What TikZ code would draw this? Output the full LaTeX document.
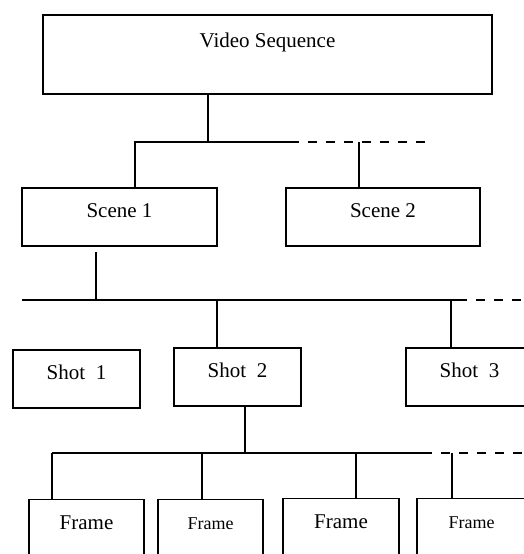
\documentclass[tikz,border=0pt]{standalone}
\usepackage{fontspec}
\setmainfont{Liberation Serif}
\usetikzlibrary{positioning}

\begin{document}
\begin{tikzpicture}[x=1pt,y=-1pt,
box/.style={draw,line width=1.2pt,inner sep=0pt,text height=15pt,text depth=15pt,
  font=\fontsize{21}{25}\selectfont},
shotbox/.style={box,minimum width=127pt,minimum height=58pt},
framebox/.style={box,anchor=north,minimum height=70pt,text depth=25pt},
small/.style={font=\fontsize{18}{22}\selectfont},
link/.style={line width=1.2pt},
more/.style={line width=1.2pt,dash pattern=on 9pt off 9pt}]
\useasboundingbox (0,0) rectangle (524,554);
\clip (0,0) rectangle (524,554);

\node[box,minimum width=449pt,minimum height=79pt,text depth=30pt] (seq) at (267.5,54.5) {Video Sequence};

\node[box,minimum width=195pt,minimum height=58pt] (sc1) at (119.5,217) {Scene 1};
\node[box,minimum width=194pt,minimum height=58pt] (sc2) at (383,217) {Scene 2};

\node[shotbox] (sh1) at (76.5,379) {Shot\ \ 1};
\node[shotbox] (sh2) at (237.5,377) {Shot\ \ 2};
\node[shotbox] (sh3) at (469.5,377) {Shot\ \ 3};

\node[framebox,minimum width=115pt] (f1) at (86.5,499) {Frame};
\node[framebox,small,minimum width=105pt] (f2) at (210.5,499) {Frame};
\node[framebox,minimum width=116pt] (f3) at (341,498) {Frame};
\node[framebox,small,minimum width=109pt] (f4) at (471.5,498) {Frame};

% sequence -> scenes
\coordinate (j1) at (208,142);
\coordinate (b1l) at (135,142);
\coordinate (b1m) at (290,142);
\coordinate (b1r) at (433,142);
\coordinate (s2) at (359,142);
\draw[link] (seq.south -| j1) -- (j1);
\draw[link] (sc1.north -| b1l) -- (b1l) -- (b1m);
\draw[more] (b1m) -- (b1r);
\draw[link] (s2) -- (s2 |- sc2.north);

% scene 1 -> shots
\coordinate (j2) at (96,300);
\coordinate (b2l) at (22,300);
\coordinate (b2m) at (458,300);
\coordinate (b2r) at (530,300);
\coordinate (t2) at (217,300);
\coordinate (t3) at (451,300);
\draw[link,shorten <=5pt] (sc1.south -| j2) -- (j2);
\draw[link] (b2l) -- (b2m);
\draw[more] (b2m) -- (b2r);
\draw[link] (t2) -- (t2 |- sh2.north);
\draw[link] (t3) -- (t3 |- sh3.north);

% shot 2 -> frames
\coordinate (j3) at (245,453);
\coordinate (b3l) at (52,453);
\coordinate (b3m) at (423,453);
\coordinate (b3r) at (530,453);
\coordinate (u2) at (202,453);
\coordinate (u3) at (356,453);
\coordinate (u4) at (452,453);
\draw[link] (sh2.south -| j3) -- (j3);
\draw[link] (b3l) -- (b3m);
\draw[more] (b3m) -- (b3r);
\foreach \u/\f in {b3l/f1,u2/f2,u3/f3,u4/f4}
  \draw[link] (\u) -- (\u |- \f.north);
\end{tikzpicture}
\end{document}
